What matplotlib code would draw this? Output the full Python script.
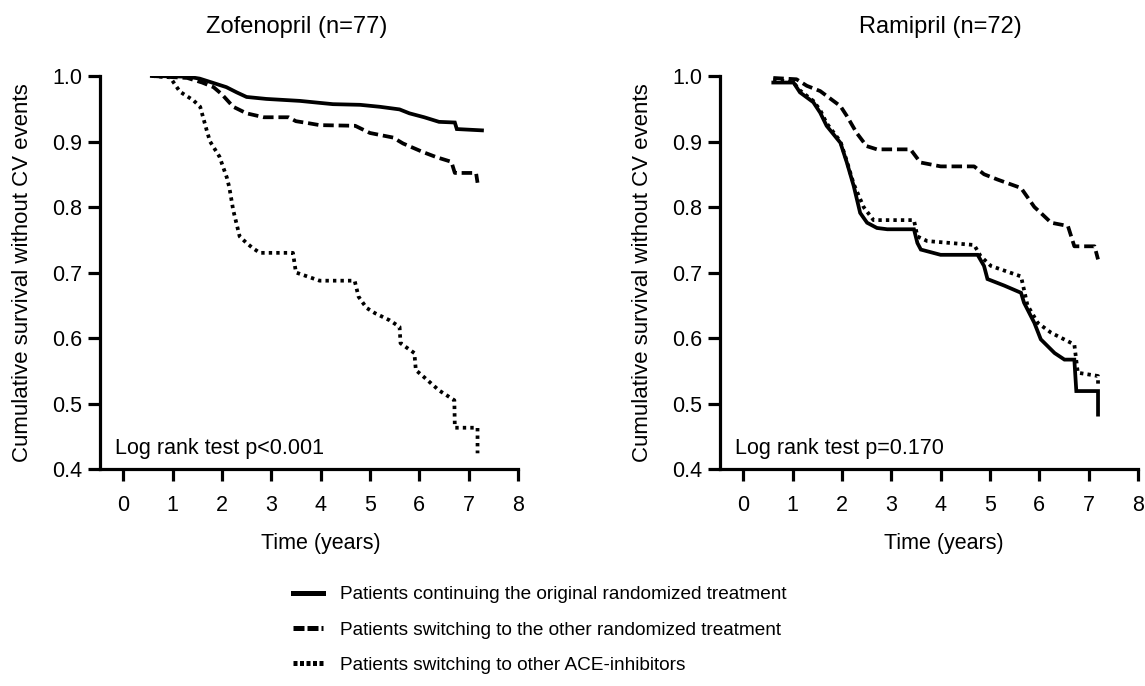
import numpy as np
import matplotlib
matplotlib.use('Agg')
from matplotlib import pyplot as plt
from matplotlib.lines import Line2D

plt.rcParams['font.family'] = ['Liberation Sans', 'DejaVu Sans']

# Zofenopril (n=77): curve vertices, time (years) and cumulative survival
zof_cont_t = [0.58, 1.3, 1.55, 1.8, 2.09, 2.3, 2.5, 2.9, 3.58, 3.98, 4.25, 4.8, 5.2, 5.6, 5.8, 6.1, 6.4, 6.72, 6.76, 7.27]
zof_cont_s = [1.0, 0.999, 0.996, 0.99, 0.983, 0.975, 0.968, 0.965, 0.962, 0.959, 0.957, 0.956, 0.953, 0.949, 0.943, 0.937, 0.930, 0.929, 0.919, 0.917]
zof_sw_t = [0.58, 1.3, 1.6, 1.83, 2.0, 2.23, 2.5, 2.85, 3.35, 3.5, 3.75, 3.98, 4.7, 5.0, 5.47, 5.67, 6.07, 6.35, 6.65, 6.72, 7.15, 7.18]
zof_sw_s = [1.0, 0.997, 0.99, 0.983, 0.972, 0.953, 0.943, 0.937, 0.937, 0.931, 0.928, 0.925, 0.924, 0.913, 0.906, 0.897, 0.884, 0.876, 0.869, 0.852, 0.852, 0.837]
zof_ace_t = [0.58, 0.95, 1.05, 1.15, 1.42, 1.56, 1.7, 1.76, 1.95, 2.1, 2.15, 2.23, 2.36, 2.5, 2.63, 2.77, 3.44, 3.5, 3.98, 4.69,
             4.77, 4.93, 5.1, 5.4, 5.6, 5.62, 5.9, 5.93, 6.1, 6.4, 6.71, 6.72, 7.18, 7.18]
zof_ace_s = [1.0, 0.998, 0.987, 0.976, 0.963, 0.953, 0.915, 0.90, 0.877, 0.845, 0.83, 0.795, 0.755, 0.745, 0.737, 0.73, 0.73, 0.70, 0.6875, 0.6875,
             0.663, 0.646, 0.638, 0.627, 0.617, 0.592, 0.577, 0.551, 0.54, 0.52, 0.505, 0.463, 0.463, 0.424]

# Ramipril (n=72)
ram_cont_t = [0.61, 1.02, 1.15, 1.42, 1.56, 1.69, 1.83, 1.97, 2.1, 2.24, 2.37, 2.51, 2.71, 2.92, 3.46, 3.53, 3.6, 4.0, 4.75,
              4.88, 4.95, 5.29, 5.63, 5.69, 5.9, 6.03, 6.31, 6.51, 6.71, 6.75, 7.19, 7.19]
ram_cont_s = [0.99, 0.99, 0.975, 0.96, 0.944, 0.924, 0.911, 0.898, 0.868, 0.832, 0.791, 0.776, 0.768, 0.766, 0.766, 0.745, 0.735, 0.727, 0.727,
              0.71, 0.69, 0.68, 0.669, 0.654, 0.623, 0.598, 0.577, 0.567, 0.567, 0.519, 0.519, 0.483]
ram_sw_t = [0.61, 1.08, 1.29, 1.56, 1.97, 2.1, 2.3, 2.5, 2.71, 3.39, 3.59, 4.0, 4.68, 4.88, 5.15, 5.63, 5.9, 6.03, 6.24, 6.58, 6.71, 7.12, 7.19]
ram_sw_s = [0.997, 0.995, 0.985, 0.977, 0.954, 0.939, 0.913, 0.893, 0.888, 0.888, 0.868, 0.862, 0.862, 0.85, 0.842, 0.829, 0.80, 0.791, 0.776, 0.771, 0.74, 0.74, 0.72]
ram_ace_t = [0.61, 1.02, 1.15, 1.42, 1.56, 1.69, 1.83, 1.97, 2.1, 2.24, 2.44, 2.64, 3.46, 3.53, 3.73, 4.68, 4.81, 5.02, 5.63,
             5.76, 5.97, 6.24, 6.71, 6.78, 7.19, 7.19]
ram_ace_s = [0.995, 0.99, 0.978, 0.962, 0.948, 0.928, 0.914, 0.90, 0.87, 0.835, 0.80, 0.78, 0.78, 0.755, 0.748, 0.742, 0.725, 0.71, 0.694,
             0.65, 0.623, 0.608, 0.59, 0.547, 0.542, 0.524]

titles = ['Zofenopril (n=77)', 'Ramipril (n=72)']
pvals = ['Log rank test p<0.001', 'Log rank test p=0.170']
labels = ['Patients continuing the original randomized treatment',
          'Patients switching to the other randomized treatment',
          'Patients switching to other ACE-inhibitors']

LW = 2.7
styles = ['-', (0, (2.8, 1.3)), (0, (0.9, 1.1))]
FS = 15.5

fig = plt.figure(figsize=(11.45, 6.86), dpi=100)
W, H = 1145, 686
axes = [fig.add_axes([100 / W, (H - 469) / H, 418 / W, 393 / H]),
        fig.add_axes([720 / W, (H - 469) / H, 418 / W, 393 / H])]
title_x = [297, 940]

data = [[(zof_cont_t, zof_cont_s), (zof_sw_t, zof_sw_s), (zof_ace_t, zof_ace_s)],
        [(ram_cont_t, ram_cont_s), (ram_sw_t, ram_sw_s), (ram_ace_t, ram_ace_s)]]

for i, ax in enumerate(axes):
    for (t, s), ls in zip(data[i], styles):
        ax.plot(t, s, color='black', lw=LW, linestyle=ls, solid_joinstyle='miter')
    ax.set_xlim(-0.47, 8)
    ax.set_ylim(0.4, 1.0)
    ax.set_xticks(range(9))
    ax.set_yticks(np.arange(0.4, 1.01, 0.1))
    ax.set_yticklabels(['%.1f' % v for v in np.arange(0.4, 1.01, 0.1)])
    for sp in ['top', 'right']:
        ax.spines[sp].set_visible(False)
    for sp in ['left', 'bottom']:
        ax.spines[sp].set_linewidth(2.3)
    ax.tick_params(axis='both', direction='out', length=8.6, width=2.3, labelsize=FS)
    ax.tick_params(axis='x', pad=10)
    ax.tick_params(axis='y', pad=4)
    ax.set_xlabel('Time (years)', fontsize=FS)
    ax.xaxis.set_label_coords(0.528 if i == 0 else 0.536, -0.163)
    ax.set_ylabel('Cumulative survival without CV events', fontsize=16)
    ax.yaxis.set_label_coords(-0.16, 0.5)
    ax.text(0.036, 0.053, pvals[i], transform=ax.transAxes, fontsize=FS, va='center', ha='left')
    fig.text(title_x[i] / W, 1 - 27 / H, titles[i], fontsize=17, ha='center', va='center')

handles = [Line2D([], [], color='black', lw=3.6, linestyle=ls) for ls in
           ['-', (0, (2.2, 0.6)), (0, (0.8, 0.5))]]
fig.legend(handles, labels, loc='upper left', bbox_to_anchor=(293 / W, 1 - 586 / H),
           frameon=False, fontsize=13.7, handlelength=1.6, handletextpad=0.85,
           labelspacing=0.95, borderpad=0, borderaxespad=0)

fig.savefig('out.png', dpi=100)
